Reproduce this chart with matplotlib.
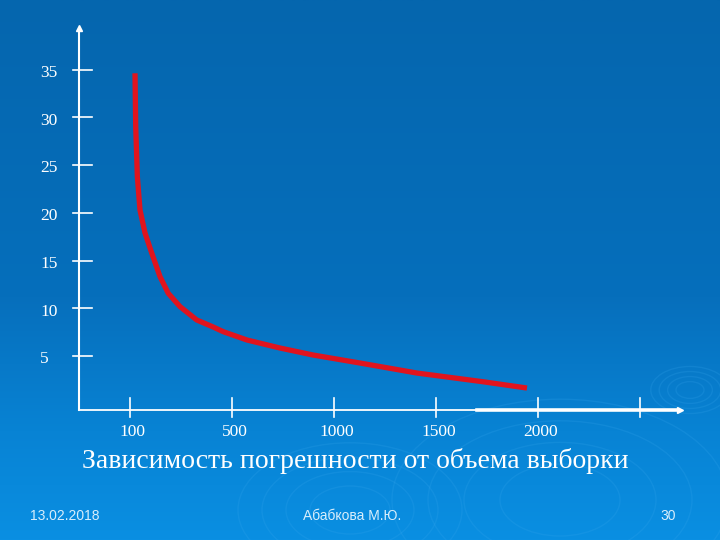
import numpy as np
import matplotlib.pyplot as plt
from matplotlib.colors import LinearSegmentedColormap
from matplotlib.patches import Ellipse
import matplotlib.transforms as mtransforms

# данные (значения на оси Y, позиции категорий по оси X)
y_ticks = [5, 10, 15, 20, 25, 30, 35]
x_ticks = [0.5, 1.5, 2.5, 3.5, 4.5, 5.5]
x_labels = ['100', '500', '1000', '1500', '2000', '']

curve_x = [0.552, 0.559, 0.575, 0.601, 0.650, 0.716, 0.797, 0.878, 0.993, 1.157,
           1.317, 1.418, 1.650, 1.974, 2.297, 2.758, 3.317, 3.964, 4.395]
curve_y = [34.62, 29.03, 23.79, 20.30, 17.90, 15.80, 13.33, 11.58, 10.19, 8.79,
           8.06, 7.56, 6.69, 5.85, 5.12, 4.28, 3.23, 2.32, 1.66]

title = 'Зависимость погрешности от объема выборки'
footer_date = '13.02.2018'
footer_author = 'Абабкова М.Ю.'
footer_page = '30'

W, H = 720, 540
fig = plt.figure(figsize=(7.2, 5.4), dpi=100)

# фон слайда - вертикальный градиент
bg = fig.add_axes([0, 0, 1, 1])
bg.set_axis_off()
cmap = LinearSegmentedColormap.from_list(
    'slide', [(0.0, '#0a8fe2'), (0.2, '#0883d4'), (0.45, '#066fbc'), (1.0, '#0566ae')])
grad = np.linspace(0, 1, 256).reshape(-1, 1)
bg.imshow(grad, aspect='auto', cmap=cmap, extent=[0, W, 0, H], origin='lower')
bg.set_xlim(0, W)
bg.set_ylim(0, H)
# декоративные круги
for cx, cy, r0 in [(690, 150, 14), (560, 40, 60), (350, 30, 40)]:
    for k in range(4):
        r = r0 * (1 + 0.6 * k)
        bg.add_patch(Ellipse((cx, cy), 2 * r, 1.2 * r, fill=False,
                             ec='#3aa8ee', lw=1.0, alpha=0.2))

# основная область графика
x0, x1 = 78.7, 680
y0, y1 = 410, 28
ax = fig.add_axes([x0 / W, (H - y0) / H, (x1 - x0) / W, (y0 - y1) / H])
ax.patch.set_alpha(0)
for s in ax.spines.values():
    s.set_visible(False)
ax.set_xticks([])
ax.set_yticks([])
xmax = (x1 - x0) / 102
ybot = (403.9 - y0) / 9.55
ytop = (403.9 - y1) / 9.55
ax.set_xlim(0, xmax)
ax.set_ylim(ybot, ytop)

# оси со стрелками
ax.plot([0, 0], [ybot, ytop - 0.2], color='white', lw=1.5, clip_on=False)
ax.plot([0, xmax * 0.995], [ybot, ybot], color='white', lw=1.3, clip_on=False)
ax.plot([3.9, xmax * 0.995], [ybot, ybot], color='white', lw=2.6, clip_on=False)
ax.plot([0], [ytop], marker='^', ms=4, color='white', clip_on=False)
ax.plot([xmax], [ybot], marker='>', ms=4, color='white', clip_on=False)

# засечки и подписи
ty = mtransforms.blended_transform_factory(ax.transAxes, ax.transData)
tx = mtransforms.blended_transform_factory(ax.transData, ax.transAxes)
for v in y_ticks:
    ax.plot([-6 / 601.3, 13 / 601.3], [v, v], color='white', lw=1.2,
            transform=ty, clip_on=False)
    ax.text(-38.7 / 601.3, v - 0.35, str(v), transform=ty, ha='left', va='center',
            color='white', fontsize=12.5, family='Liberation Serif')
for v, lab in zip(x_ticks, x_labels):
    ax.plot([v, v], [-7 / 382, 12 / 382], color='white', lw=1.2,
            transform=tx, clip_on=False)
    ax.text(v + 0.03, -22 / 382, lab, transform=tx, ha='center', va='center',
            color='white', fontsize=12.5, family='Liberation Serif')

# кривая
ax.plot(curve_x, curve_y, color='#e0141e', lw=3.8, solid_capstyle='butt',
        solid_joinstyle='round')

# заголовок и колонтитулы
fig.text(355 / W, 1 - 461 / H, title, ha='center', va='center', color='white',
         fontsize=20, family='Liberation Serif')
fig.text(30 / W, 1 - 516 / H, footer_date, ha='left', va='center', color='#d8eefc',
         fontsize=10, family='Liberation Sans')
fig.text(352 / W, 1 - 516 / H, footer_author, ha='center', va='center', color='#d8eefc',
         fontsize=10, family='Liberation Sans')
fig.text(676 / W, 1 - 516 / H, footer_page, ha='right', va='center', color='#d8eefc',
         fontsize=10, family='Liberation Sans')

fig.savefig('out.png', dpi=100)
